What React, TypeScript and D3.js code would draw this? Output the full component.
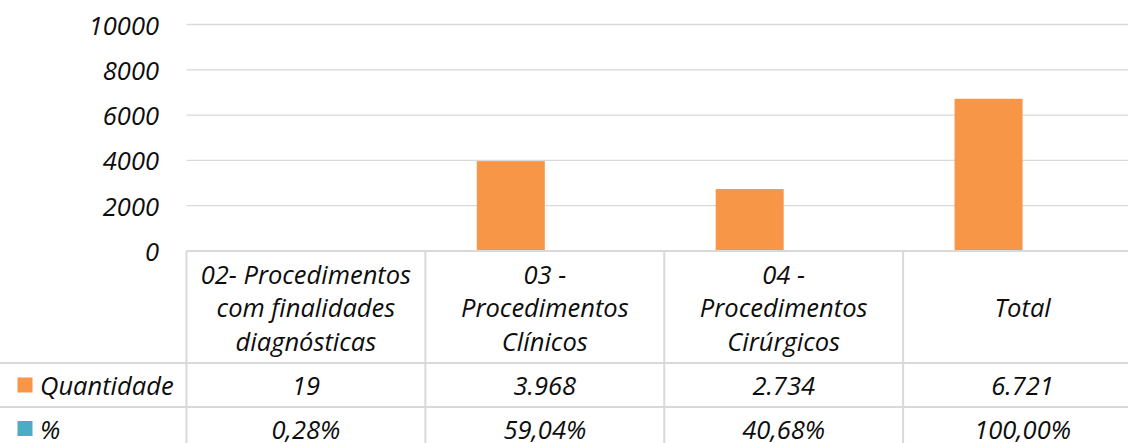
import React from "react";
import * as d3 from "d3";

const categories: string[][] = [
  ["02- Procedimentos", "com finalidades", "diagnósticas"],
  ["03 -", "Procedimentos", "Clínicos"],
  ["04 -", "Procedimentos", "Cirúrgicos"],
  ["Total"],
];
const quantidade: number[] = [19, 3968, 2734, 6721];
const percent: number[] = [0.28, 59.04, 40.68, 100.0];
const quantidadeLabels: string[] = ["19", "3.968", "2.734", "6.721"];
const percentLabels: string[] = ["0,28%", "59,04%", "40,68%", "100,00%"];
const yTicks: number[] = [0, 2000, 4000, 6000, 8000, 10000];
const seriesNames: string[] = ["Quantidade", "%"];
const seriesColors: string[] = ["#F79646", "#4BACC6"];

const W = 1128;
const H = 443;
const plotLeft = 186.5;
const plotRight = 1142;
const plotTop = 24.5;
const plotBottom = 251;
const headerBottom = 363;
const row1Bottom = 407;
const row2Bottom = 450;
const gridColor = "#D9D9D9";
const font = "'Open Sans', 'Noto Sans', sans-serif";
const fs = 25.5;

export default function App() {
  const y = d3.scaleLinear().domain([0, 10000]).range([plotBottom, plotTop]);
  const x = d3
    .scaleBand<number>()
    .domain(categories.map((_, i) => i))
    .range([plotLeft, plotRight])
    .paddingInner(0)
    .paddingOuter(0);
  const bw = x.bandwidth();
  const xs = d3
    .scaleBand<number>()
    .domain([0, 1])
    .range([0, bw])
    .paddingInner(0)
    .paddingOuter(0.756);
  const seriesVals = [quantidade, percent.map((p) => p / 100)];
  const rows = [quantidadeLabels, percentLabels];
  const rowCenters = [(headerBottom + row1Bottom) / 2, (row1Bottom + row2Bottom) / 2];
  const lineH = 33.5;

  return (
    <div style={{ position: "fixed", left: 0, top: 0, width: W, height: H, background: "#fff" }}>
      <svg width={W} height={H} style={{ display: "block" }} fontFamily={font}>
        <rect x={0} y={0} width={W} height={H} fill="#fff" />
        {yTicks
          .filter((t) => t > 0)
          .map((t) => (
            <line key={t} x1={plotLeft} x2={W} y1={y(t)} y2={y(t)} stroke={gridColor} strokeWidth={1.3} />
          ))}
        {yTicks.map((t) => (
          <text
            key={t}
            x={159}
            y={y(t)}
            textAnchor="end"
            dominantBaseline="central"
            fontSize={fs}
            fontStyle="italic"
            fill="#0d0d0d"
          >
            {t}
          </text>
        ))}
        {categories.map((_, i) =>
          seriesVals.map((vals, s) => (
            <rect
              key={`${i}-${s}`}
              x={(x(i) as number) + (xs(s) as number)}
              y={y(vals[i])}
              width={xs.bandwidth()}
              height={plotBottom - y(vals[i])}
              fill={seriesColors[s]}
            />
          ))
        )}
        <line x1={plotLeft} x2={W} y1={plotBottom} y2={plotBottom} stroke={gridColor} strokeWidth={2} />
        <line x1={0} x2={W} y1={headerBottom} y2={headerBottom} stroke={gridColor} strokeWidth={2} />
        <line x1={0} x2={W} y1={row1Bottom} y2={row1Bottom} stroke={gridColor} strokeWidth={2} />
        {categories.map((_, i) => (
          <line
            key={i}
            x1={x(i) as number}
            x2={x(i) as number}
            y1={plotBottom}
            y2={H}
            stroke={gridColor}
            strokeWidth={2}
          />
        ))}
        {categories.map((lines, i) => {
          const cx = (x(i) as number) + bw / 2;
          const cy = (plotBottom + headerBottom) / 2;
          const start = cy - ((lines.length - 1) * lineH) / 2;
          return (
            <text
              key={i}
              textAnchor="middle"
              fontSize={fs}
              fontStyle="italic"
              fill="#0d0d0d"
              dominantBaseline="central"
            >
              {lines.map((l, k) => (
                <tspan key={k} x={cx} y={start + k * lineH}>
                  {l}
                </tspan>
              ))}
            </text>
          );
        })}
        {rows.map((labels, r) => (
          <g key={r}>
            <rect x={17.5} y={rowCenters[r] - 7.5} width={15} height={15} fill={seriesColors[r]} />
            <text
              x={40}
              y={rowCenters[r]}
              dominantBaseline="central"
              fontSize={fs}
              fontStyle="italic"
              fill="#0d0d0d"
            >
              {seriesNames[r]}
            </text>
            {labels.map((l, i) => (
              <text
                key={i}
                x={(x(i) as number) + bw / 2}
                y={rowCenters[r]}
                textAnchor="middle"
                dominantBaseline="central"
                fontSize={fs}
                fontStyle="italic"
                fill="#0d0d0d"
              >
                {l}
              </text>
            ))}
          </g>
        ))}
      </svg>
    </div>
  );
}
